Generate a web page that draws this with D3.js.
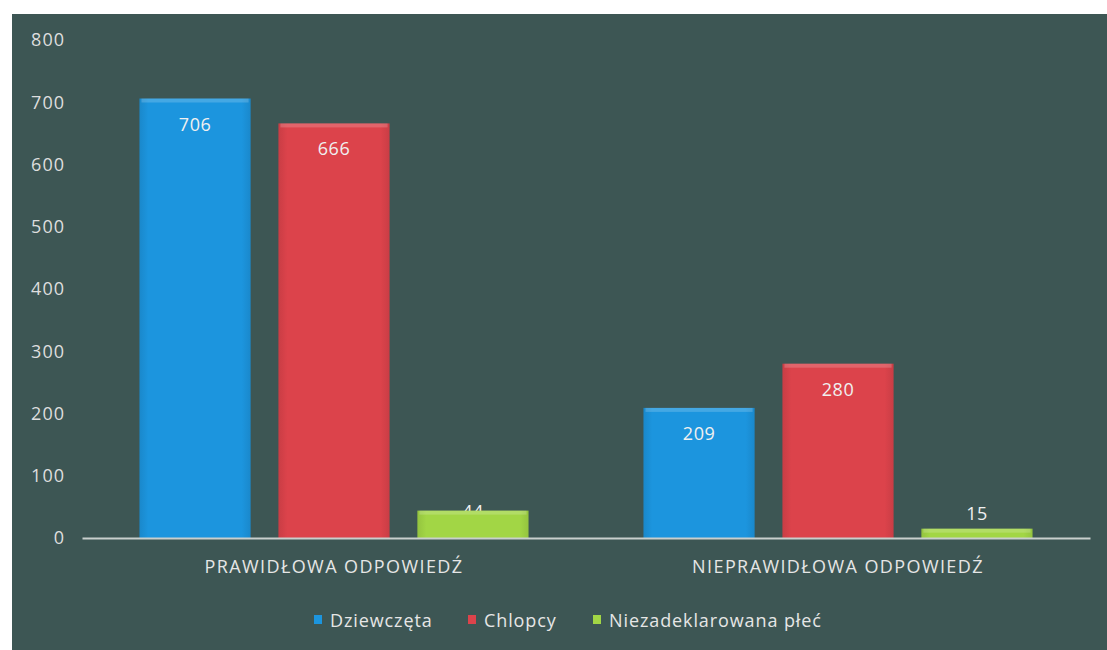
<!DOCTYPE html>
<html><head><meta charset="utf-8">
<script src="https://cdn.jsdelivr.net/npm/d3@7"></script>
<style>
html,body{margin:0;padding:0;background:#fff;}
svg{display:block;}
text{font-family:"Open Sans",sans-serif;}
</style></head>
<body>
<svg id="c" width="1107" height="650"></svg>
<script>
const categories = ["PRAWIDŁOWA ODPOWIEDŹ", "NIEPRAWIDŁOWA ODPOWIEDŹ"];
const seriesNames = ["Dziewczęta", "Chlopcy", "Niezadeklarowana płeć"];
const dziewczeta = [706, 209];
const chlopcy = [666, 280];
const niezadeklarowana = [44, 15];
const yTicks = [0, 100, 200, 300, 400, 500, 600, 700, 800];
const colors = ["#1c95de", "#dc434b", "#a2d645"];

const seriesValues = [dziewczeta, chlopcy, niezadeklarowana];
const svg = d3.select("#c");
const W = 1107, H = 650;

// panel background
svg.append("rect").attr("x", 12).attr("y", 14).attr("width", W - 12).attr("height", H - 14).attr("fill", "#3d5654");

const defs = svg.append("defs");
colors.forEach((c, i) => {
  const g = defs.append("linearGradient").attr("id", "g" + i).attr("x1", 0).attr("x2", 1).attr("y1", 0).attr("y2", 0);
  g.append("stop").attr("offset", "0%").attr("stop-color", d3.color(c).darker(0.25));
  g.append("stop").attr("offset", "8%").attr("stop-color", c);
  g.append("stop").attr("offset", "92%").attr("stop-color", c);
  g.append("stop").attr("offset", "100%").attr("stop-color", d3.color(c).darker(0.25));
});

const x0 = 82, x1 = 1090, yTop = 40, yBot = 538;
const y = d3.scaleLinear().domain([0, 800]).range([yBot, yTop]);
const xBand = d3.scaleBand().domain(categories).range([x0, x1]).paddingInner(0.228).paddingOuter(0.114);
const xInner = d3.scaleBand().domain(seriesNames).range([0, xBand.bandwidth()]).paddingInner(0.2);

// y axis labels
const yAxis = d3.axisLeft(y).tickValues(yTicks).tickSize(0).tickPadding(0);
const ya = svg.append("g").attr("transform", `translate(65,0)`).call(yAxis);
ya.select(".domain").remove();
ya.selectAll("text").attr("fill", "#dedede").attr("font-size", 18).attr("letter-spacing", 1)
  .attr("font-family", "Open Sans, sans-serif");

// bars
const labelsBelow = svg.append("g");
const bars = svg.append("g");
const labelsAbove = svg.append("g");
categories.forEach((cat, ci) => {
  seriesNames.forEach((s, si) => {
    const v = seriesValues[si][ci];
    const bx = xBand(cat) + xInner(s);
    const bw = xInner.bandwidth();
    const top = y(v);
    const h = y(0) - top;
    bars.append("rect").attr("x", bx).attr("y", top).attr("width", bw).attr("height", h)
      .attr("fill", `url(#g${si})`);
    bars.append("rect").attr("x", bx + 2).attr("y", top).attr("width", bw - 4).attr("height", Math.min(4, h))
      .attr("fill", "#ffffff").attr("opacity", 0.18);
    let layer = labelsAbove, ly;
    if (h > 40) ly = top + 32;
    else if (h > 20) { ly = top + 7; layer = labelsBelow; }
    else ly = top - 9;
    layer.append("text").attr("x", bx + bw / 2).attr("y", ly).attr("text-anchor", "middle")
      .attr("fill", "#f0f0f0").attr("font-size", 18).attr("letter-spacing", 0.5).text(v);
  });
});

// x axis line
const xAxis = d3.axisBottom(xBand).tickSize(0).tickPadding(0);
const xa = svg.append("g").attr("transform", `translate(0,${yBot})`).call(xAxis);
xa.select(".domain").attr("stroke", "#c9cfcd").attr("stroke-width", 2);
xa.selectAll("text").attr("dy", 0).attr("y", 35).attr("fill", "#e6e6e6").attr("font-size", 18)
  .attr("letter-spacing", 1.4).attr("font-family", "Open Sans, sans-serif");

// legend
const legend = svg.append("g");
const legX = [314, 468, 593];
seriesNames.forEach((s, i) => {
  legend.append("rect").attr("x", legX[i]).attr("y", 615).attr("width", 8).attr("height", 9).attr("fill", colors[i]);
  legend.append("text").attr("x", legX[i] + 16).attr("y", 627).attr("fill", "#e6e6e6").attr("font-size", 18)
    .attr("letter-spacing", 0.9).text(s);
});
</script>
</body></html>
